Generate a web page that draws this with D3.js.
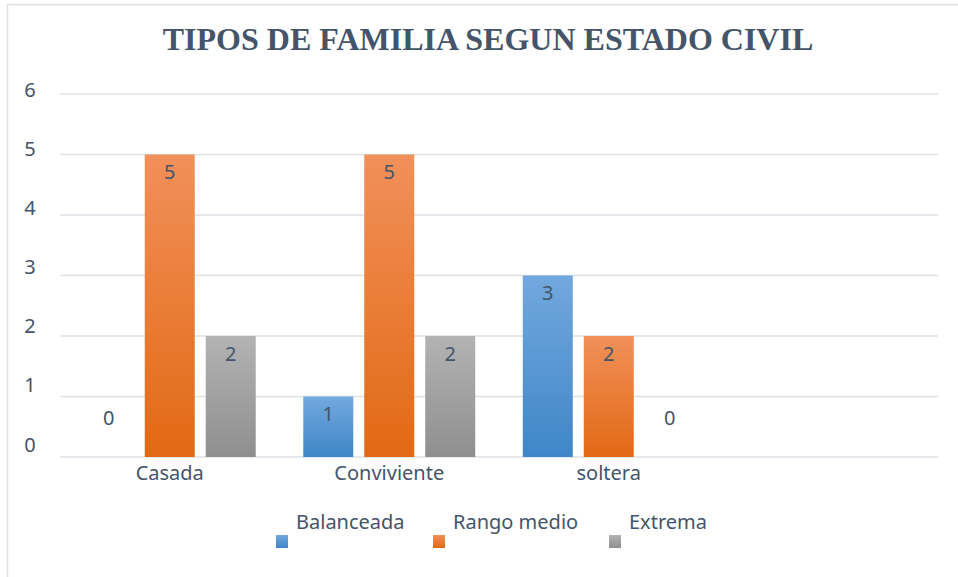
<!DOCTYPE html>
<html>
<head>
<meta charset="utf-8">
<script src="https://cdn.jsdelivr.net/npm/d3@7"></script>
<style>
  body { margin: 0; background: #fff; }
  svg text { font-family: "Noto Sans", "Open Sans", sans-serif; fill: #44546a; }
</style>
</head>
<body>
<div id="chart"></div>
<script>
"use strict";

// Data
let categories = ["Casada", "Conviviente", "soltera", ""];
let seriesNames = ["Balanceada", "Rango medio", "Extrema"];
let balanceada = [0, 1, 3];
let rangoMedio = [5, 5, 2];
let extrema = [2, 2, 0];
let yTicks = [0, 1, 2, 3, 4, 5, 6];

let width = 958, height = 577;
let colors = [
    { top: "#72a8de", bottom: "#3f86c8" },
    { top: "#f1905a", bottom: "#e26914" },
    { top: "#b3b3b3", bottom: "#8f8f8f" }
];

let svg = d3.select("#chart").append("svg")
    .attr("width", width)
    .attr("height", height);

// Gradients
let defs = svg.append("defs");
colors.forEach(function(c, i) {
    let g = defs.append("linearGradient")
        .attr("id", "grad" + i)
        .attr("x1", 0).attr("y1", 0).attr("x2", 0).attr("y2", 1);
    g.append("stop").attr("offset", "0%").attr("stop-color", c.top);
    g.append("stop").attr("offset", "100%").attr("stop-color", c.bottom);
});

// Frame (only left and top edges fall inside the picture)
svg.append("rect")
    .attr("x", 7.5).attr("y", 4.5)
    .attr("width", 1000).attr("height", 620)
    .style("fill", "none")
    .style("stroke", "#dde2e9")
    .style("stroke-width", 1.5);

// Title
svg.append("text")
    .attr("x", 488)
    .attr("y", 50)
    .attr("text-anchor", "middle")
    .style("font-family", "'Liberation Serif', 'Times New Roman', serif")
    .style("font-weight", "bold")
    .style("font-size", "32px")
    .text("TIPOS DE FAMILIA SEGUN ESTADO CIVIL");

// Scales
let x = d3.scaleBand()
    .domain(categories)
    .range([60, 938]);

let xInner = d3.scaleBand()
    .domain(seriesNames)
    .range([0, x.bandwidth()])
    .paddingInner(0.18)
    .paddingOuter(0.39);

let y = d3.scaleLinear()
    .domain([0, 6])
    .range([457, 94]);

// label scale: Excel draws the tick labels slightly off the gridlines
let yLabel = d3.scaleLinear()
    .domain([0, 6])
    .range([444, 89]);

// Gridlines
svg.append("g").selectAll("line")
    .data(yTicks)
    .enter().append("line")
    .attr("x1", 60)
    .attr("x2", 938)
    .attr("y1", function(d) { return y(d); })
    .attr("y2", function(d) { return y(d); })
    .style("stroke", "#dde2e8")
    .style("stroke-width", 1.5);

// Y labels
svg.append("g").selectAll("text")
    .data(yTicks)
    .enter().append("text")
    .attr("x", 30)
    .attr("y", function(d) { return yLabel(d); })
    .attr("text-anchor", "middle")
    .attr("dominant-baseline", "central")
    .style("font-size", "20px")
    .text(function(d) { return d; });

// Category labels
svg.append("g").selectAll("text")
    .data(categories)
    .enter().append("text")
    .attr("x", function(d) { return x(d) + x.bandwidth() / 2; })
    .attr("y", 472)
    .attr("text-anchor", "middle")
    .attr("dominant-baseline", "central")
    .style("font-size", "20px")
    .text(function(d) { return d; });

// Bars
let series = [balanceada, rangoMedio, extrema];
let cells = [];
series.forEach(function(vals, si) {
    vals.forEach(function(v, ci) {
        cells.push({ series: seriesNames[si], si: si, cat: categories[ci], value: v });
    });
});

let bars = svg.append("g");
bars.selectAll("rect")
    .data(cells.filter(function(d) { return d.value > 0; }))
    .enter().append("rect")
    .attr("x", function(d) { return x(d.cat) + xInner(d.series); })
    .attr("y", function(d) { return y(d.value); })
    .attr("width", xInner.bandwidth())
    .attr("height", function(d) { return y(0) - y(d.value); })
    .style("fill", function(d) { return "url(#grad" + d.si + ")"; });

// Value labels
bars.selectAll("text")
    .data(cells)
    .enter().append("text")
    .attr("x", function(d) { return x(d.cat) + xInner(d.series) + xInner.bandwidth() / 2; })
    .attr("y", function(d) {
        return d.value === 0 ? y(0) - 40 : y(d.value) + 17;
    })
    .attr("text-anchor", "middle")
    .attr("dominant-baseline", "central")
    .style("font-size", "20px")
    .text(function(d) { return d.value; });

// Legend
let legendX = [276, 433, 609];
let legend = svg.append("g").selectAll("g")
    .data(seriesNames)
    .enter().append("g")
    .attr("transform", function(d, i) { return "translate(" + legendX[i] + ",0)"; });

legend.append("rect")
    .attr("x", 0)
    .attr("y", 535)
    .attr("width", 12)
    .attr("height", 13)
    .style("fill", function(d, i) { return "url(#grad" + i + ")"; });

legend.append("text")
    .attr("x", 20)
    .attr("y", 521)
    .attr("dominant-baseline", "central")
    .style("font-size", "20px")
    .text(function(d) { return d; });
</script>
</body>
</html>
